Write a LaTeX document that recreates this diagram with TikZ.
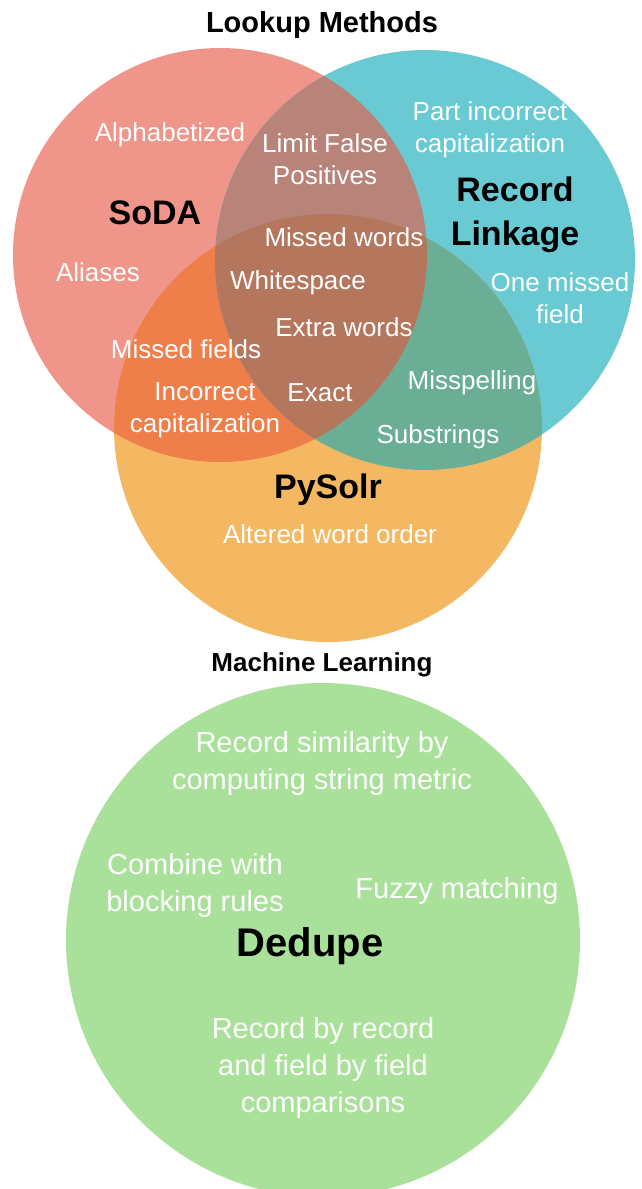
\documentclass[tikz,border=0pt]{standalone}
\usepackage{fontspec}
\setmainfont{Liberation Sans}
\definecolor{sodafill}{HTML}{F09589}
\definecolor{linkfill}{HTML}{6ACAD3}
\definecolor{solrfill}{HTML}{F4B862}
\definecolor{sodalink}{HTML}{B88379}
\definecolor{sodasolr}{HTML}{EE7E4A}
\definecolor{linksolr}{HTML}{6AAE95}
\definecolor{allthree}{HTML}{B5765E}
\definecolor{dedupefill}{HTML}{A9E19A}
\tikzset{
  lbl/.style={text=white, inner sep=0pt, align=center, font=\fontsize{26}{32}\selectfont},
  mllbl/.style={text=white, inner sep=0pt, align=center, font=\fontsize{29}{37}\selectfont},
  tool/.style={text=black, inner sep=0pt, align=center, font=\bfseries\fontsize{34}{44}\selectfont},
  head/.style={text=black, inner sep=0pt, font=\bfseries\fontsize{#1}{#1}\selectfont},
}

\begin{document}
\begin{tikzpicture}[x=1pt, y=-1pt]
			\useasboundingbox (0,0) rectangle (642,1189);
			
			%%%%% LOOKUP METHODS %%%%%
			
			\node[head=29] (lookup) at (322, 25) {Lookup Methods};
			
			\fill[sodafill] (220, 255) circle [radius=207pt];
			\fill[linkfill] (425, 260) circle [radius=210pt];
			\fill[solrfill] (328, 428) circle [radius=214pt];
			
			\begin{scope}
				\clip (220, 255) circle [radius=207pt];
				\fill[sodalink] (425, 260) circle [radius=210pt];
				\fill[sodasolr] (328, 428) circle [radius=214pt];
			\end{scope}
			\begin{scope}
				\clip (425, 260) circle [radius=210pt];
				\fill[linksolr] (328, 428) circle [radius=214pt];
				\clip (220, 255) circle [radius=207pt];
				\fill[allthree] (328, 428) circle [radius=214pt];
			\end{scope}
			
			\node[tool] (soda) at (155, 213) {SoDA};
			\node[tool] (link) at (515, 215) {Record\\Linkage};
			\node[tool] (solr) at (328, 490) {PySolr};
			
			\node[lbl] (alpha) at (170, 135) {Alphabetized};
			\node[lbl] (alias) at (98, 272) {Aliases};
			\node[lbl] (limit) at (325, 159) {Limit False\\Positives};
			\node[lbl] (partcap) at (490, 130) {Part incorrect\\capitalization};
			\node[lbl] (onefield) at (560, 298) {One missed\\field};
			\node[lbl] (mwords) at (344, 237) {Missed words};
			\node[lbl] (white) at (298, 283) {Whitespace};
			\node[lbl] (extra) at (344, 327) {Extra words};
			\node[lbl] (exact) at (320, 393) {Exact};
			\node[lbl] (mfields) at (186, 349) {Missed fields};
			\node[lbl] (inccap) at (205, 410) {Incorrect\\capitalization};
			\node[lbl] (misspell) at (472, 383) {Misspelling};
			\node[lbl] (substr) at (438, 437) {Substrings};
			\node[lbl] (order) at (330, 534) {Altered word order};
			
			%%%%% MACHINE LEARNING %%%%%
			
			\node[head=26] (mlearn) at (322, 665) {Machine Learning};
			
			\fill[dedupefill] (323, 940) circle [radius=257pt];
			
			\node[tool, font=\bfseries\fontsize{40}{40}\selectfont] (dedupe) at (310, 946) {Dedupe};
			\node[mllbl] (simil) at (322, 763) {Record similarity by\\computing string metric};
			\node[mllbl] (block) at (195, 885) {Combine with\\blocking rules};
			\node[mllbl] (fuzzy) at (457, 891) {Fuzzy matching};
			\node[mllbl] (byfield) at (323, 1068) {Record by record\\and field by field\\comparisons};
			
\end{tikzpicture}
\end{document}
